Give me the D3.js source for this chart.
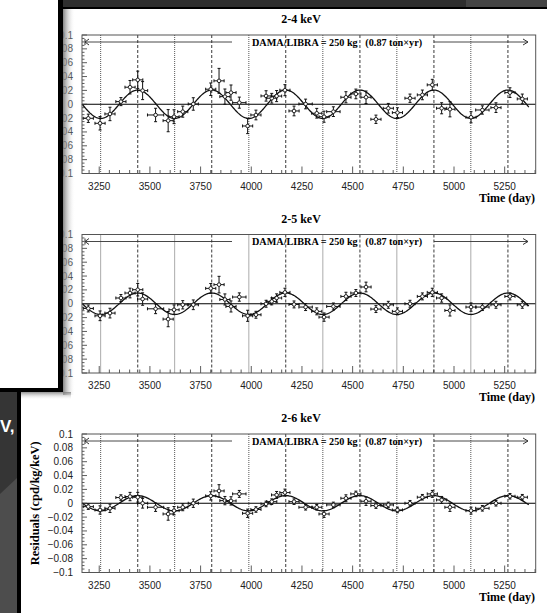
<!DOCTYPE html>
<html>
<head>
<meta charset="utf-8">
<script src="https://cdn.jsdelivr.net/npm/d3@7"></script>
<style>
  body { margin: 0; background: #fff; }
  svg { display: block; }
</style>
</head>
<body>
<svg id="chart" width="547" height="613"></svg>
<script>
// time bins (day) shared by the three energy windows
const days = [3196, 3254, 3303, 3357, 3402, 3440, 3464, 3528, 3590, 3619, 3662, 3714, 3800, 3841, 3870, 3900, 3941, 3982, 4023, 4073, 4101, 4125, 4166, 4211, 4268, 4323, 4359, 4405, 4467, 4516, 4566, 4615, 4676, 4721, 4783, 4844, 4893, 4939, 4980, 5084, 5140, 5207, 5276, 5337]
const dayErr = [25, 25, 25, 25, 25, 25, 25, 40, 25, 25, 25, 25, 25, 25, 25, 25, 33, 25, 25, 25, 25, 25, 25, 25, 33, 25, 25, 33, 25, 25, 25, 25, 25, 25, 25, 25, 25, 25, 25, 25, 33, 25, 25, 25]

const res24 = [-0.0203, -0.0275, -0.014, 0.0038, 0.0246, 0.0352, 0.0197, -0.0155, -0.0237, -0.018, -0.0107, 0.0004, 0.0217, 0.0338, 0.011, 0.0168, 0.0023, -0.0314, -0.0155, 0.012, 0.0087, 0.0118, 0.0203, -0.0097, 0.0004, -0.013, -0.018, -0.0107, 0.0101, 0.0149, 0.0101, -0.0217, -0.0058, -0.0121, 0.0087, 0.0135, 0.028, -0.0058, -0.0072, -0.0188, -0.0083, -0.0049, 0.0168, 0.0077]
const err24 = [0.006, 0.0097, 0.0097, 0.0058, 0.0097, 0.0126, 0.013, 0.0097, 0.016, 0.01, 0.008, 0.009, 0.009, 0.018, 0.011, 0.011, 0.008, 0.011, 0.007, 0.0075, 0.007, 0.008, 0.008, 0.007, 0.007, 0.007, 0.008, 0.007, 0.008, 0.007, 0.009, 0.006, 0.007, 0.007, 0.006, 0.007, 0.008, 0.008, 0.011, 0.008, 0.006, 0.007, 0.007, 0.007]

const res25 = [-0.0068, -0.0174, -0.0135, 0.0083, 0.0155, 0.0203, 0.0068, -0.0073, -0.0222, -0.0087, -0.0015, -0.0015, 0.0222, 0.0276, 0.0062, -0.0039, 0.0097, -0.0174, -0.0159, 0, 0.0034, 0.0083, 0.0164, -0.001, -0.0048, -0.011, -0.0193, -0.0039, 0.0106, 0.0155, 0.0242, -0.0077, -0.0015, -0.011, 0, 0.0106, 0.0164, 0.0083, -0.0097, -0.0048, -0.0048, -0.0015, 0.0106, -0.0015]
const err25 = [0.005, 0.007, 0.007, 0.005, 0.007, 0.009, 0.009, 0.007, 0.011, 0.007, 0.006, 0.007, 0.007, 0.012, 0.008, 0.008, 0.006, 0.008, 0.005, 0.005, 0.005, 0.006, 0.006, 0.005, 0.005, 0.005, 0.006, 0.005, 0.006, 0.005, 0.007, 0.005, 0.005, 0.005, 0.005, 0.005, 0.006, 0.006, 0.008, 0.006, 0.005, 0.005, 0.005, 0.005]

const res26 = [-0.0049, -0.0097, -0.0073, 0.0082, 0.0097, 0.0087, 0, -0.0058, -0.0155, -0.0107, -0.0058, 0, 0.0106, 0.0178, 0.0038, 0.0034, 0.0135, -0.0145, -0.009, -0.001, 0.0023, 0.012, 0.0154, 0.0023, -0.0058, -0.0058, -0.0155, -0.0024, 0.0072, 0.0135, 0.0029, -0.0034, -0.0024, -0.0097, 0, 0.0087, 0.0135, 0.0048, -0.0058, -0.0107, -0.0073, 0, 0.0101, 0.0087]
const err26 = [0.004, 0.006, 0.006, 0.004, 0.006, 0.007, 0.007, 0.006, 0.009, 0.006, 0.005, 0.006, 0.006, 0.009, 0.006, 0.006, 0.005, 0.006, 0.004, 0.004, 0.004, 0.005, 0.005, 0.004, 0.004, 0.004, 0.005, 0.004, 0.005, 0.004, 0.006, 0.004, 0.004, 0.004, 0.004, 0.004, 0.005, 0.005, 0.006, 0.005, 0.004, 0.004, 0.004, 0.004]

const panelTitles = ['2-4 keV', '2-5 keV', '2-6 keV']
const amplitudes = [0.0205, 0.0155, 0.011]   // fitted A cos(w(t - t0))
const period = 365.25, phase = 152.5
const maxDays = [3440, 3805, 4170, 4536, 4901, 5266]   // June 2nd
const minDays = [3257, 3622, 3988, 4353, 4718, 5083]   // Dec 2nd
const xTicks = [3250, 3500, 3750, 4000, 4250, 4500, 4750, 5000, 5250]
const yTicks = [0.1, 0.08, 0.06, 0.04, 0.02, 0, -0.02, -0.04, -0.06, -0.08, -0.1]

const svg = d3.select('#chart')
const W = +svg.attr('width'), H = +svg.attr('height')

const serif = '"Liberation Serif", "Times New Roman", serif'
const sans = '"Liberation Sans", Arial, sans-serif'

// slide background bits behind the pictures
svg.append('rect').attr('x', 0).attr('y', 390).attr('width', 21).attr('height', H - 390).attr('fill', '#353535')
svg.append('polygon').attr('points', '0,494 17,478 17,613 0,613').attr('fill', '#4d4d4d')
svg.append('text').attr('x', 0).attr('y', 432).attr('fill', '#fff')
    .style('font-family', sans).style('font-weight', 'bold').style('font-size', '17px').text('V,')
svg.append('rect').attr('x', 17).attr('y', 390).attr('width', 4).attr('height', H - 390).attr('fill', '#000')

const x = d3.scaleLinear().domain([3165, 5403]).range([82, 535.7])
const panelTops = [35, 234.5, 434]
const ph = 138.5

const drawPanel = (top, idx, vals, errs) => {

    let g = svg.append('g')
    let y = d3.scaleLinear().domain([-0.1, 0.1]).range([top + ph, top])

    g.append('text')
        .attr('x', 301).attr('y', top - 12)
        .attr('text-anchor', 'middle')
        .style('font-family', serif).style('font-weight', 'bold').style('font-size', '12px')
        .text(panelTitles[idx])

    // vertical markers
    g.selectAll('.vmax').data(maxDays).enter().append('line')
        .attr('x1', d => x(d)).attr('x2', d => x(d))
        .attr('y1', top).attr('y2', top + ph)
        .attr('stroke', '#222').attr('stroke-width', 0.9).attr('stroke-dasharray', '3,2')
    g.selectAll('.vmin').data(minDays).enter().append('line')
        .attr('x1', d => x(d)).attr('x2', d => x(d))
        .attr('y1', top).attr('y2', top + ph)
        .attr('stroke', '#444').attr('stroke-width', 0.9).attr('stroke-dasharray', '1,1')

    // zero line
    g.append('line').attr('x1', x.range()[0]).attr('x2', x.range()[1])
        .attr('y1', y(0)).attr('y2', y(0)).attr('stroke', '#000').attr('stroke-width', 1)

    // ticks
    let minorX = d3.range(3200, 5401, 50)
    g.selectAll('.mx').data(minorX).enter().append('line')
        .attr('x1', d => x(d)).attr('x2', d => x(d))
        .attr('y1', top + ph).attr('y2', d => top + ph - (d % 250 === 0 ? 7 : 3.5))
        .attr('stroke', '#333').attr('stroke-width', 0.8)
    let minorY = d3.range(-0.1, 0.1001, 0.005)
    g.selectAll('.my').data(minorY).enter().append('line')
        .attr('x1', 82).attr('x2', (d, i) => 82 + (i % 4 === 0 ? 5 : 2.5))
        .attr('y1', d => y(d)).attr('y2', d => y(d))
        .attr('stroke', '#333').attr('stroke-width', 0.8)

    g.selectAll('.xl').data(xTicks).enter().append('text')
        .attr('x', d => x(d)).attr('y', top + ph + 16)
        .attr('text-anchor', 'middle')
        .style('font-family', sans).style('font-size', '10px').attr('fill', '#222')
        .text(d => d)
    g.selectAll('.yl').data(yTicks).enter().append('text')
        .attr('x', 73).attr('y', d => y(d)).attr('dy', '0.35em')
        .attr('text-anchor', 'end')
        .style('font-family', sans).style('font-size', '10px').attr('fill', '#222')
        .text(d => d === 0 ? '0' : d3.format('.2~f')(d).replace('-', '\u2212'))

    g.append('text')
        .attr('transform', `translate(39,${top + ph / 2}) rotate(-90)`)
        .attr('text-anchor', 'middle')
        .style('font-family', serif).style('font-weight', 'bold').style('font-size', '12.5px')
        .text('Residuals (cpd/kg/keV)')

    g.append('text')
        .attr('x', 535).attr('y', top + ph + 28)
        .attr('text-anchor', 'end')
        .style('font-family', serif).style('font-weight', 'bold').style('font-size', '12px')
        .text('Time (day)')

    // exposure arrow
    let ay = top + 7
    g.append('line').attr('x1', 85).attr('x2', 232).attr('y1', ay).attr('y2', ay).attr('stroke', '#333').attr('stroke-width', 0.9)
    g.append('line').attr('x1', 85).attr('x2', 85).attr('y1', ay - 3).attr('y2', ay + 3).attr('stroke', '#333')
    g.append('path').attr('d', `M89,${ay - 3}L85,${ay}L89,${ay + 3}`).attr('fill', 'none').attr('stroke', '#333')
    g.append('line').attr('x1', 434).attr('x2', 528).attr('y1', ay).attr('y2', ay).attr('stroke', '#333').attr('stroke-width', 0.9)
    g.append('path').attr('d', `M523,${ay - 3}L528,${ay}L523,${ay + 3}`).attr('fill', 'none').attr('stroke', '#333')
    g.append('text').attr('x', 252).attr('y', ay + 3.5)
        .style('font-family', serif).style('font-weight', 'bold').style('font-size', '10.2px')
        .attr('xml:space', 'preserve')
        .text('DAMA/LIBRA = 250 kg   (0.87 ton\u00d7yr)')

    // fitted modulation
    let curve = d3.range(x.domain()[0], 5372, 4)
    g.append('path')
        .datum(curve)
        .attr('d', d3.line().x(d => x(d)).y(d => y(amplitudes[idx] * Math.cos(2 * Math.PI / period * (d - phase)))))
        .attr('fill', 'none').attr('stroke', '#111').attr('stroke-width', 1.3)

    // data points
    let pts = g.selectAll('.pt').data(days).enter().append('g')
    pts.append('line')
        .attr('x1', (d, i) => x(d - dayErr[i])).attr('x2', (d, i) => x(d + dayErr[i]))
        .attr('y1', (d, i) => y(vals[i])).attr('y2', (d, i) => y(vals[i]))
        .attr('stroke', '#111').attr('stroke-width', 1)
    pts.append('line')
        .attr('x1', d => x(d)).attr('x2', d => x(d))
        .attr('y1', (d, i) => y(vals[i] - errs[i])).attr('y2', (d, i) => y(vals[i] + errs[i]))
        .attr('stroke', '#111').attr('stroke-width', 1)
    pts.append('path')
        .attr('d', (d, i) => {
            let cx = x(d), lo = y(vals[i] - errs[i]), hi = y(vals[i] + errs[i])
            let xl = x(d - dayErr[i]), xr = x(d + dayErr[i]), cy = y(vals[i])
            return `M${cx - 1.5},${lo}H${cx + 1.5}M${cx - 1.5},${hi}H${cx + 1.5}M${xl},${cy - 1.5}V${cy + 1.5}M${xr},${cy - 1.5}V${cy + 1.5}`
        })
        .attr('stroke', '#111').attr('stroke-width', 1)
    pts.append('circle')
        .attr('cx', d => x(d)).attr('cy', (d, i) => y(vals[i])).attr('r', 1.8)
        .attr('fill', '#fff').attr('stroke', '#111').attr('stroke-width', 0.9)

    // frame
    g.append('rect').attr('x', 82).attr('y', top).attr('width', x.range()[1] - 82).attr('height', ph)
        .attr('fill', 'none').attr('stroke', '#555').attr('stroke-width', 1)
}

drawPanel(panelTops[0], 0, res24, err24)
drawPanel(panelTops[1], 1, res25, err25)
drawPanel(panelTops[2], 2, res26, err26)

// top-left cover box with shadow, and slide strip along the top
let defs = svg.append('defs')
let gr = defs.append('linearGradient').attr('id', 'shadowR')
gr.append('stop').attr('offset', '0%').attr('stop-color', '#777').attr('stop-opacity', 0.9)
gr.append('stop').attr('offset', '100%').attr('stop-color', '#fff').attr('stop-opacity', 0)
let gb = defs.append('linearGradient').attr('id', 'shadowB').attr('x1', 0).attr('x2', 0).attr('y1', 0).attr('y2', 1)
gb.append('stop').attr('offset', '0%').attr('stop-color', '#777').attr('stop-opacity', 0.8)
gb.append('stop').attr('offset', '100%').attr('stop-color', '#fff').attr('stop-opacity', 0)

svg.append('rect').attr('x', 63).attr('y', 9).attr('width', 12).attr('height', 386).attr('fill', 'url(#shadowR)')
svg.append('rect').attr('x', 21).attr('y', 392).attr('width', 50).attr('height', 8).attr('fill', 'url(#shadowB)')
svg.append('rect').attr('x', 0).attr('y', 0).attr('width', 58).attr('height', 388).attr('fill', '#fff')
svg.append('rect').attr('x', 58).attr('y', 0).attr('width', 5).attr('height', 392).attr('fill', '#000')
svg.append('rect').attr('x', 0).attr('y', 388).attr('width', 63).attr('height', 4).attr('fill', '#000')

svg.append('rect').attr('x', 63).attr('y', 0).attr('width', W - 63).attr('height', 7).attr('fill', '#2e2e2e')
svg.append('rect').attr('x', 466).attr('y', 0).attr('width', W - 466).attr('height', 7).attr('fill', '#444')
svg.append('rect').attr('x', 63).attr('y', 7).attr('width', W - 63).attr('height', 2).attr('fill', '#000')
</script>
</body>
</html>
